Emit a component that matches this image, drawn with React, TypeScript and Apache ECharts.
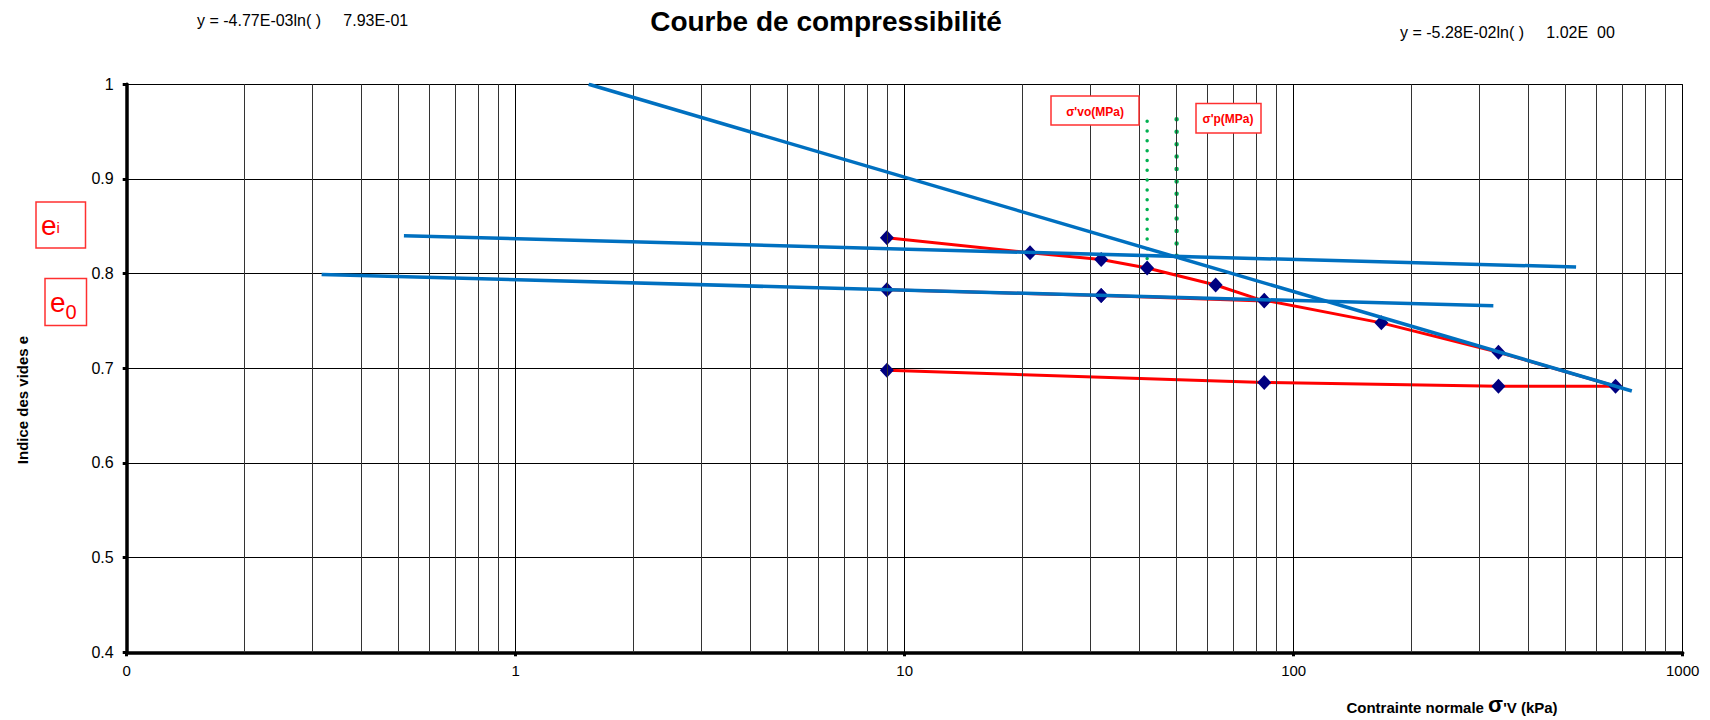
import React, { useEffect, useRef } from "react";
import * as echarts from "echarts";

// ---- data ----
const stressKPa = [9, 21, 32, 42, 63, 84, 32, 9, 32, 84, 168, 336, 672, 336, 84, 9];
const voidRatio = [0.838, 0.822, 0.815, 0.806, 0.788, 0.771, 0.777, 0.783, 0.777, 0.772, 0.748, 0.717, 0.681, 0.681, 0.685, 0.698];

const trendTopX = [0.516, 532];
const trendTopY = [0.84, 0.807];
const trendMidX = [0.317, 326];
const trendMidY = [0.799, 0.766];
const trendSteepX = [1.54, 740];
const trendSteepY = [1.0, 0.676];

const sigmaVoX = [42, 42];
const sigmaVoY = [0.961, 0.812];
const sigmaPX = [50, 50];
const sigmaPY = [0.963, 0.818];

const xMin = 0.1;
const xMax = 1000;
const yMin = 0.4;
const yMax = 1;
const yStep = 0.1;
const minorGridX = [
  0.2, 0.3, 0.4, 0.5, 0.6, 0.7, 0.8, 0.9,
  2, 3, 4, 5, 6, 7, 8, 9,
  20, 30, 40, 50, 60, 70, 80, 90,
  200, 300, 400, 500, 600, 700, 800, 900,
];

const titleText = "Courbe de compressibilité";
const eq1Text = "y = -4.77E-03ln( )     7.93E-01";
const eq2Text = "y = -5.28E-02ln( )     1.02E  00";
const yName = "Indice des vides e";

const FONT = 'Arial, "Liberation Sans", sans-serif';

const zip = (xs: number[], ys: number[]) => xs.map((x, i) => [x, ys[i]]);

export default function App() {
  const ref = useRef<HTMLDivElement>(null);
  useEffect(() => {
    if (!ref.current) return;
    const chart = echarts.init(ref.current, undefined, { renderer: "svg" });
    const blue = "#0070C0";
    const green = "#00B050";
    const option: any = {
      animation: false,
      backgroundColor: "#fff",
      textStyle: { fontFamily: FONT },
      grid: { left: 126.7, right: 27.3, top: 84.3, bottom: 67.7, containLabel: false },
      xAxis: {
        type: "log",
        logBase: 10,
        min: xMin,
        max: xMax,
        axisLine: { show: true, onZero: false, lineStyle: { color: "#000", width: 3.5 } },
        axisTick: { show: true, length: 4, lineStyle: { color: "#000", width: 3 } },
        axisLabel: {
          color: "#000",
          fontSize: 15,
          fontFamily: FONT,
          margin: 11,
          showMinLabel: true,
          showMaxLabel: true,
          formatter: (v: number) => (v < 1 ? "0" : String(Math.round(v))),
        },
        splitLine: { show: true, lineStyle: { color: "#000", width: 1 } },
      },
      yAxis: {
        type: "value",
        min: yMin,
        max: yMax,
        interval: yStep,
        axisLine: { show: true, onZero: false, lineStyle: { color: "#000", width: 3.5 } },
        axisTick: { show: true, length: 4, lineStyle: { color: "#000", width: 3 } },
        axisLabel: {
          color: "#000",
          fontSize: 16,
          fontFamily: FONT,
          margin: 13,
          formatter: (v: number) => String(Math.round(v * 10) / 10),
        },
        splitLine: { show: true, lineStyle: { color: "#000", width: 1 } },
      },
      series: [
        {
          type: "line",
          data: [],
          z: 1,
          silent: true,
          markLine: {
            silent: true,
            symbol: ["none", "none"],
            label: { show: false },
            lineStyle: { color: "#333", width: 1, type: "solid" },
            emphasis: { disabled: true },
            data: minorGridX.map((v) => ({ xAxis: v })),
          },
        },
        {
          name: "courbe",
          type: "line",
          data: zip(stressKPa, voidRatio),
          z: 3,
          symbol: "diamond",
          symbolSize: [14, 15],
          itemStyle: { color: "#000080" },
          lineStyle: { color: "#FF0000", width: 3 },
        },
        {
          type: "line",
          data: zip(sigmaVoX, sigmaVoY),
          z: 4,
          showSymbol: false,
          lineStyle: { color: green, width: 3.5, type: [0.01, 9.8], cap: "round" },
        },
        {
          type: "line",
          data: zip(sigmaPX, sigmaPY),
          z: 4,
          showSymbol: false,
          lineStyle: { color: green, width: 4.5, type: [0.01, 12.4], cap: "round" },
        },
        {
          type: "line",
          data: zip(trendTopX, trendTopY),
          z: 5,
          showSymbol: false,
          lineStyle: { color: blue, width: 3.5 },
        },
        {
          type: "line",
          data: zip(trendMidX, trendMidY),
          z: 5,
          showSymbol: false,
          lineStyle: { color: blue, width: 3.5 },
        },
        {
          type: "line",
          data: zip(trendSteepX, trendSteepY),
          z: 5,
          showSymbol: false,
          lineStyle: { color: blue, width: 3.5 },
        },
      ],
      graphic: [
        {
          type: "text",
          x: 826,
          y: 21,
          style: {
            text: titleText,
            font: `bold 28px ${FONT}`,
            fill: "#000",
            align: "center",
            verticalAlign: "middle",
          },
        },
        {
          type: "text",
          x: 197,
          y: 20,
          style: { text: eq1Text, font: `16px ${FONT}`, fill: "#000", align: "left", verticalAlign: "middle" },
        },
        {
          type: "text",
          x: 1400,
          y: 32,
          style: { text: eq2Text, font: `16px ${FONT}`, fill: "#000", align: "left", verticalAlign: "middle" },
        },
        {
          type: "text",
          x: 22,
          y: 400,
          rotation: Math.PI / 2,
          style: {
            text: yName,
            font: `bold 15px ${FONT}`,
            fill: "#000",
            align: "center",
            verticalAlign: "middle",
          },
        },
        {
          type: "text",
          x: 1452,
          y: 704,
          style: {
            text: "{a|Contrainte normale }{b|σ}{a|'V (kPa)}",
            align: "center",
            verticalAlign: "middle",
            rich: {
              a: { font: `bold 15px ${FONT}`, fill: "#000", verticalAlign: "bottom" },
              b: { font: `bold 22px ${FONT}`, fill: "#000", verticalAlign: "bottom" },
            },
          },
        },
        // σ'vo box
        {
          type: "rect",
          shape: { x: 1051, y: 96, width: 88, height: 29 },
          style: { fill: "#fff", stroke: "#FF3030", lineWidth: 1.5 },
          z: 10,
        },
        {
          type: "text",
          x: 1095,
          y: 112,
          z: 11,
          style: { text: "σ'vo(MPa)", font: `bold 12px ${FONT}`, fill: "#FF0000", align: "center", verticalAlign: "middle" },
        },
        // σ'p box
        {
          type: "rect",
          shape: { x: 1196, y: 103.5, width: 65, height: 29.5 },
          style: { fill: "#fff", stroke: "#FF3030", lineWidth: 1.5 },
          z: 10,
        },
        {
          type: "text",
          x: 1228,
          y: 119,
          z: 11,
          style: { text: "σ'p(MPa)", font: `bold 12px ${FONT}`, fill: "#FF0000", align: "center", verticalAlign: "middle" },
        },
        // e_i box
        {
          type: "rect",
          shape: { x: 36, y: 202, width: 49.5, height: 46 },
          style: { fill: "#fff", stroke: "#FF3030", lineWidth: 1.5 },
          z: 10,
        },
        {
          type: "text",
          x: 41,
          y: 225,
          z: 11,
          style: {
            text: "{e|e}{s|i}",
            align: "left",
            verticalAlign: "middle",
            rich: {
              e: { font: `28px ${FONT}`, fill: "#FF0000", verticalAlign: "bottom" },
              s: { font: `15px ${FONT}`, fill: "#FF0000", verticalAlign: "bottom", padding: [0, 0, 4, 0] },
            },
          },
        },
        // e_0 box
        {
          type: "rect",
          shape: { x: 45, y: 278.5, width: 41.5, height: 47 },
          style: { fill: "#fff", stroke: "#FF3030", lineWidth: 1.5 },
          z: 10,
        },
        {
          type: "text",
          x: 50,
          y: 302,
          z: 11,
          style: {
            text: "{e|e}{s|0}",
            align: "left",
            verticalAlign: "middle",
            rich: {
              e: { font: `28px ${FONT}`, fill: "#FF0000", verticalAlign: "top" },
              s: { font: `20px ${FONT}`, fill: "#FF0000", verticalAlign: "bottom", padding: [0, 0, -6, 0] },
            },
          },
        },
      ],
    };
    chart.setOption(option);
    return () => chart.dispose();
  }, []);
  return (
    <div
      ref={ref}
      style={{ position: "fixed", left: 0, top: 0, width: 1710, height: 720, background: "#fff" }}
    />
  );
}
